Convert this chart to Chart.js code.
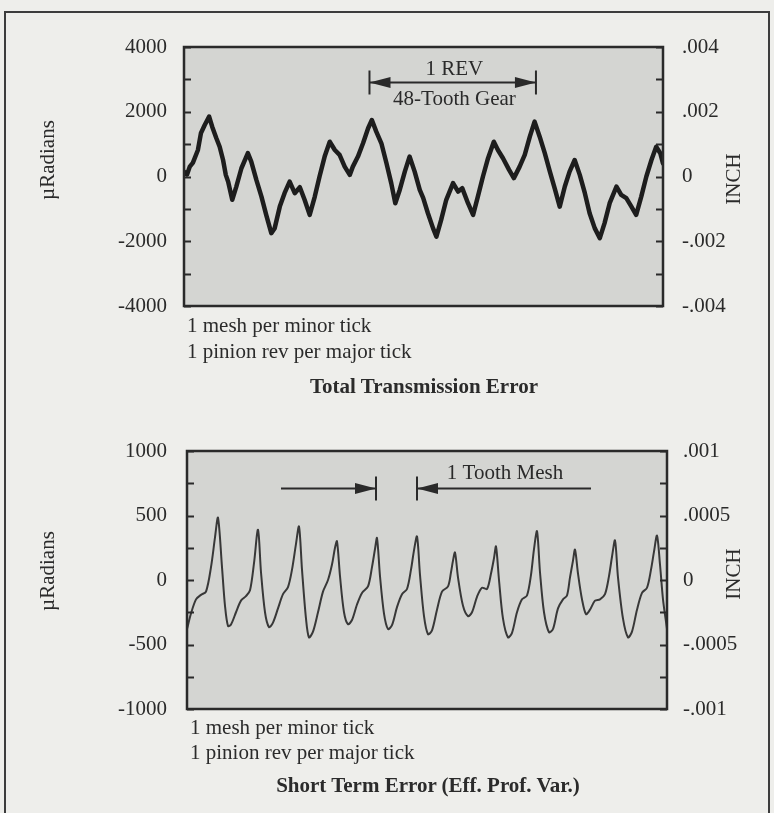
<!DOCTYPE html>
<html>
<head>
<meta charset="utf-8">
<script src="https://cdn.jsdelivr.net/npm/chart.js@4.4.1/dist/chart.umd.min.js"></script>
<style>
  html, body { margin: 0; padding: 0; background: #eeeeeb; }
  #page { position: relative; width: 774px; height: 813px; overflow: hidden; background: #eeeeeb;
          font-family: "Liberation Serif", "Times New Roman", serif; color: #2b2b2b; }
  #frame { position: absolute; left: 4px; top: 11px; width: 762px; height: 830px; border: 2px solid #3c3c3c; }
  .cv { position: absolute; left: 0; }
  .cap { position: absolute; font-size: 21px; line-height: 24px; white-space: nowrap; }
  .ttl { position: absolute; font-size: 21px; line-height: 24px; font-weight: bold; white-space: nowrap;
         width: 500px; text-align: center; }
  .vlab { position: absolute; width: 140px; height: 24px; line-height: 24px; font-size: 21px;
          text-align: center; transform: rotate(-90deg); white-space: nowrap; }
</style>
</head>
<body>
<div id="page">
  <div id="frame"></div>
  <canvas id="cTotal" class="cv" style="top:0" width="774" height="410"></canvas>
  <canvas id="cShort" class="cv" style="top:400px" width="774" height="413"></canvas>

  <div class="vlab" style="left:-23px; top:148px;">µRadians</div>
  <div class="vlab" style="left:663px; top:167px;">INCH</div>
  <div class="cap" style="left:187px; top:313px;">1 mesh per minor tick</div>
  <div class="cap" style="left:187px; top:339px;">1 pinion rev per major tick</div>
  <div class="ttl" style="left:174px; top:374px;">Total Transmission Error</div>

  <div class="vlab" style="left:-23px; top:559px;">µRadians</div>
  <div class="vlab" style="left:663px; top:562px;">INCH</div>
  <div class="cap" style="left:190px; top:715px;">1 mesh per minor tick</div>
  <div class="cap" style="left:190px; top:740px;">1 pinion rev per major tick</div>
  <div class="ttl" style="left:178px; top:773px;">Short Term Error (Eff. Prof. Var.)</div>
</div>

<script>
// ---- Total transmission error (mesh number vs. µrad) ----
const totalMesh = [
  0.0, 0.9, 1.7, 2.6, 4.1, 5.0, 6.1, 7.4, 8.3, 9.5, 10.5, 11.5, 12.3, 13.0, 14.2, 15.4,
  16.9, 18.8, 19.8, 21.3, 22.8, 24.2, 25.7, 26.7, 28.2, 29.6, 31.1, 32.6, 34.1, 35.5,
  37.0, 38.5, 39.9, 41.4, 42.9, 44.4, 45.8, 47.3, 48.8, 49.7, 51.2, 52.7, 54.2, 55.3,
  56.6, 58.1, 59.6, 61.0, 62.2, 63.5, 65.0, 66.4, 67.9, 69.4, 70.4, 71.8, 73.3, 74.3,
  75.7, 77.2, 79.2, 80.7, 81.9, 83.6, 85.1, 86.5, 88.0, 89.5, 91.2, 92.4, 93.9, 95.7,
  97.1, 98.8, 100.3, 101.8, 103.2, 104.7, 106.2, 107.7, 109.1, 110.6, 112.1, 113.5,
  115.0, 116.5, 118.0, 119.4, 120.9, 122.4, 123.8, 125.3, 127.3, 128.7, 130.2, 131.7,
  133.1, 134.6, 136.1, 137.6, 139.0, 140.2, 141.0
];
const totalMicroRad = [
  150, 60, 305, 420, 820, 1345, 1590, 1850, 1540, 1190, 920, 510, 50, -160, -720, -310,
  255, 720, 460, -105, -620, -1185, -1750, -1595, -930, -515, -160, -515, -330, -720,
  -1185, -620, 0, 615, 1075, 820, 670, 305, 50, 305, 615, 1025, 1490, 1745,
  1385, 1025, 410, -205, -825, -415, 150, 615, 150, -415, -660, -1135, -1595, -1855,
  -1340, -720, -205, -465, -360, -825, -1185, -620, 0, 565, 1075, 820, 565, 205,
  -50, 305, 665, 1230, 1695, 1230, 720, 150, -360, -930, -310, 150,
  510, 50, -515, -1135, -1595, -1905, -1440, -825, -310, -570, -670, -930,
  -1185, -620, 0, 510, 920, 720, 400
];

// ---- Short term error (mesh number vs. µrad) ----
const shortMesh = [
  0, 0.1, 0.225, 0.35, 0.475, 0.6, 0.7, 0.775, 0.875, 0.95, 1.025,
  1.1, 1.225, 1.35, 1.475, 1.575, 1.675, 1.775, 1.85, 1.95, 2.05,
  2.15, 2.275, 2.4, 2.525, 2.625, 2.725, 2.8, 2.875, 2.975, 3.05,
  3.15, 3.275, 3.4, 3.525, 3.625, 3.7, 3.75, 3.825, 3.925, 4.025,
  4.125, 4.25, 4.375, 4.525, 4.625, 4.7, 4.75, 4.825, 4.925, 5.025,
  5.125, 5.25, 5.375, 5.5, 5.6, 5.675, 5.75, 5.825, 5.925, 6.025,
  6.125, 6.25, 6.375, 6.525, 6.6, 6.65, 6.7, 6.775, 6.9, 7.025,
  7.125, 7.25, 7.375, 7.5, 7.6, 7.675, 7.725, 7.8, 7.9, 8.025,
  8.125, 8.25, 8.375, 8.5, 8.6, 8.675, 8.75, 8.825, 8.925, 9.05,
  9.15, 9.275, 9.4, 9.5, 9.575, 9.65, 9.7, 9.775, 9.875, 9.975,
  10.075, 10.2, 10.325, 10.45, 10.55, 10.625, 10.7, 10.775, 10.9, 11.025,
  11.125, 11.25, 11.375, 11.5, 11.6, 11.675, 11.75, 11.825, 11.9, 12
];
const shortMicroRad = [
  -380, -260, -150, -115, -90, 100, 330, 483, 100, -200, -357,
  -345, -250, -160, -125, -80, 130, 390, 60, -250, -365,
  -330, -220, -110, -55, 80, 280, 415, 80, -300, -445,
  -400, -250, -90, 0, 120, 250, 300, 30, -250, -343,
  -310, -190, -100, -50, 100, 240, 325, 30, -260, -380,
  -350, -210, -110, -70, 80, 230, 337, 40, -280, -420,
  -390, -230, -90, -50, 60, 150, 213, 20, -200, -280,
  -250, -130, -60, -70, 50, 170, 260, 0, -300, -445,
  -410, -250, -150, -120, 40, 240, 377, 60, -250, -405,
  -380, -220, -150, -120, 20, 150, 236, 50, -150, -265,
  -230, -160, -150, -110, 30, 180, 306, 20, -300, -445,
  -400, -230, -100, -60, 80, 220, 344, 120, -150, -380
];

// ---- axis ticks ----
const totalTickMarks = [-4000, -3000, -2000, -1000, 0, 1000, 2000, 3000, 4000];
const totalTickLabels = [-4000, -2000, 0, 2000, 4000];
const totalInchValues = [-0.004, -0.002, 0, 0.002, 0.004];
const totalInchLabels = ['-.004', '-.002', '0', '.002', '.004'];

const shortTickMarks = [-1000, -750, -500, -250, 0, 250, 500, 750, 1000];
const shortTickLabels = [-1000, -500, 0, 500, 1000];
const shortInchValues = [-0.001, -0.0005, 0, 0.0005, 0.001];
const shortInchLabels = ['-.001', '-.0005', '0', '.0005', '.001'];

Chart.defaults.font.family = "'Liberation Serif', 'Times New Roman', serif";
Chart.defaults.font.size = 21;
Chart.defaults.color = '#2b2b2b';

const SERIF = "'Liberation Serif', 'Times New Roman', serif";
const INK = '#2a2a2a';

// grey plot field, inward tick marks and heavy frame
const plotFrame = {
  id: 'plotFrame',
  beforeDatasetsDraw(chart) {
    const { ctx, chartArea: a } = chart;
    ctx.save();
    ctx.fillStyle = '#d4d5d2';
    ctx.fillRect(a.left, a.top, a.width, a.height);
    ctx.restore();
  },
  afterDatasetsDraw(chart) {
    const { ctx, chartArea: a, scales } = chart;
    const y = scales.y;
    ctx.save();
    ctx.strokeStyle = INK;
    ctx.lineWidth = 2;
    ctx.beginPath();
    y.ticks.forEach(t => {
      const py = Math.round(y.getPixelForValue(t.value)) + 0.5;
      ctx.moveTo(a.left, py); ctx.lineTo(a.left + 7, py);
      ctx.moveTo(a.right - 7, py); ctx.lineTo(a.right, py);
    });
    ctx.stroke();
    ctx.lineWidth = 2.5;
    ctx.strokeRect(a.left, a.top, a.width, a.height);
    ctx.restore();
  }
};

function arrowHead(ctx, tipX, y, dir) {
  // dir = +1 points right, -1 points left
  const len = 21, half = 5.5;
  ctx.beginPath();
  ctx.moveTo(tipX, y);
  ctx.lineTo(tipX - dir * len, y - half);
  ctx.lineTo(tipX - dir * len, y + half);
  ctx.closePath();
  ctx.fill();
}

function bar(ctx, x, y) {
  ctx.beginPath();
  ctx.moveTo(x, y - 12);
  ctx.lineTo(x, y + 12);
  ctx.stroke();
}

// dimension arrows placed in data units
const dimensionMarks = {
  id: 'dimensionMarks',
  afterDraw(chart, args, opts) {
    const { ctx, scales: { x, y } } = chart;
    ctx.save();
    ctx.strokeStyle = INK;
    ctx.fillStyle = INK;
    ctx.lineWidth = 2;
    (opts.arrows || []).forEach(ar => {
      const py = Math.round(y.getPixelForValue(ar.y)) + 0.5;
      const x0 = x.getPixelForValue(ar.from);
      const x1 = x.getPixelForValue(ar.to);
      ctx.beginPath();
      ctx.moveTo(x0, py); ctx.lineTo(x1, py);
      ctx.stroke();
      (ar.bars || []).forEach(b => bar(ctx, x.getPixelForValue(b), py));
      (ar.heads || []).forEach(h => arrowHead(ctx, x.getPixelForValue(h.at), py, h.dir));
    });
    ctx.font = '21px ' + SERIF;
    ctx.textAlign = 'center';
    ctx.textBaseline = 'middle';
    (opts.texts || []).forEach(t => {
      ctx.fillText(t.text, x.getPixelForValue(t.x), y.getPixelForValue(t.y) + (t.dy || 0));
    });
    ctx.restore();
  }
};

function yAxisLeft(min, max, marks, labels, pad) {
  return {
    type: 'linear', position: 'left', min, max,
    afterBuildTicks: s => { s.ticks = marks.map(v => ({ value: v })); },
    afterFit: s => { s.width = s.chart.options.axisWidths.left; },
    ticks: {
      autoSkip: false, padding: pad,
      font: { size: 21, family: SERIF }, color: INK,
      callback: v => (labels.includes(v) ? String(v) : '')
    },
    grid: { display: false, drawTicks: false },
    border: { display: false }
  };
}

function yAxisRight(min, max, values, labels, pad) {
  return {
    type: 'linear', position: 'right', min, max,
    afterBuildTicks: s => { s.ticks = values.map(v => ({ value: v })); },
    afterFit: s => { s.width = s.chart.options.axisWidths.right; },
    ticks: {
      autoSkip: false, padding: pad,
      font: { size: 21, family: SERIF }, color: INK,
      callback: (v, i) => labels[i]
    },
    grid: { display: false, drawTicks: false },
    border: { display: false }
  };
}

function baseOptions(xMax, padTop, padBottom, widths) {
  return {
    responsive: false,
    animation: false,
    events: [],
    axisWidths: widths,
    layout: { padding: { top: padTop, bottom: padBottom, left: 0, right: 0 } },
    plugins: { legend: { display: false }, tooltip: { enabled: false }, title: { display: false } },
    scales: {
      x: { type: 'linear', min: 0, max: xMax, display: false }
    }
  };
}

// ---- chart 1: total transmission error ----
const opt1 = baseOptions(141, 47, 104, { left: 184, right: 111 });
opt1.scales.y = yAxisLeft(-4000, 4000, totalTickMarks, totalTickLabels, 17);
opt1.scales.yIn = yAxisRight(-0.004, 0.004, totalInchValues, totalInchLabels, 19);
opt1.plugins.dimensionMarks = {
  arrows: [{
    from: 54.6, to: 103.6, y: 2920,
    bars: [54.6, 103.6],
    heads: [{ at: 54.6, dir: -1 }, { at: 103.6, dir: 1 }]
  }],
  texts: [
    { text: '1 REV', x: 79.6, y: 2920, dy: -12 },
    { text: '48-Tooth Gear', x: 79.6, y: 2920, dy: 18 }
  ]
};

new Chart(document.getElementById('cTotal'), {
  type: 'line',
  data: {
    datasets: [{
      data: totalMesh.map((m, i) => ({ x: m, y: totalMicroRad[i] })),
      borderColor: '#1d1d1d',
      borderWidth: 4.5,
      borderJoinStyle: 'round',
      borderCapStyle: 'round',
      pointRadius: 0,
      tension: 0,
      yAxisID: 'y'
    }]
  },
  options: opt1,
  plugins: [plotFrame, dimensionMarks]
});

// ---- chart 2: short term error ----
const opt2 = baseOptions(12, 51, 104, { left: 187, right: 107 });
opt2.scales.y = yAxisLeft(-1000, 1000, shortTickMarks, shortTickLabels, 20);
opt2.scales.yIn = yAxisRight(-0.001, 0.001, shortInchValues, shortInchLabels, 16);
opt2.plugins.dimensionMarks = {
  arrows: [
    { from: 2.35, to: 4.725, y: 715, bars: [4.725], heads: [{ at: 4.725, dir: 1 }] },
    { from: 5.75, to: 10.1, y: 715, bars: [5.75], heads: [{ at: 5.75, dir: -1 }] }
  ],
  texts: [
    { text: '1 Tooth Mesh', x: 7.95, y: 715, dy: -14 }
  ]
};

new Chart(document.getElementById('cShort'), {
  type: 'line',
  data: {
    datasets: [{
      data: shortMesh.map((m, i) => ({ x: m, y: shortMicroRad[i] })),
      borderColor: '#383838',
      borderWidth: 2,
      pointRadius: 0,
      tension: 0.3,
      yAxisID: 'y'
    }]
  },
  options: opt2,
  plugins: [plotFrame, dimensionMarks]
});
</script>
</body>
</html>
